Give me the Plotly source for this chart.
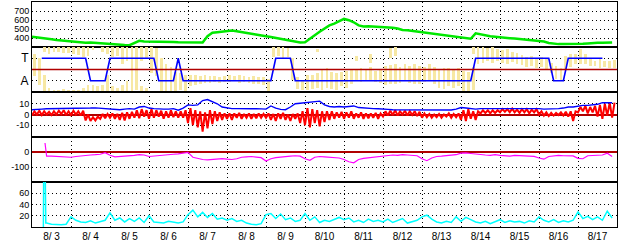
import pandas as pd
import plotly.graph_objects as go
from plotly.subplots import make_subplots

# ---------------- data (3-hourly samples, 8/3 00:00 .. 8/17 21:00) ----------------
t0 = pd.Timestamp("2023-08-03 00:00")
t3 = [t0 + pd.Timedelta(hours=3 * i) for i in range(120)]
tmid = [t + pd.Timedelta(minutes=90) for t in t3]

day_labels = ["8/ 3", "8/ 4", "8/ 5", "8/ 6", "8/ 7", "8/ 8", "8/ 9", "8/10",
              "8/11", "8/12", "8/13", "8/14", "8/15", "8/16", "8/17"]

speed = [
    414, 405, 398, 392, 385, 378, 372, 365,
    360, 356, 352, 348, 350, 345, 342, 338,
    332, 330, 326, 322, 320, 345, 368, 362,
    362, 360, 362, 358, 356, 355, 352, 350,
    348, 347, 350, 350, 420, 458, 465, 472,
    478, 482, 476, 468, 460, 450, 440, 430,
    420, 410, 400, 390, 378, 368, 358, 350,
    352, 395, 430, 470, 510, 540, 560, 585,
    612, 598, 575, 540, 528, 530, 526, 528,
    526, 522, 515, 505, 490, 485, 478, 470,
    463, 458, 452, 446, 441, 432, 425, 418,
    410, 400, 392, 452, 440, 426, 420, 415,
    407, 402, 398, 394, 388, 384, 378, 374,
    370, 360, 345, 335, 332, 334, 333, 330,
    332, 336, 340, 345, 348, 346, 350, 350,
]

# IMF sector, one char per 3 h: T = toward, A = away, . = none
sector_days = ["..TTTTTT", "TTTTAAAA", "TTTTTTTT", "TTAAAATA", "AAAAAAAA",
               "AAAAAAAA", "AATTTTAA", "AAAAAAAA", "AAAAAAAA", "AAAAAAAA",
               "AAAAAAAA", "AAATTTTT", "TTTTTTTT", "TTTAAATT", "TTTTTT.."]

# yellow scatter extent per 3 h bin (main cluster and wrapped cluster)
ylo = [
    -0.6, -1.4, -2.0, -2.0, -2.0, -2.0, -2.0, -2.0,
    -2.0, -2.0, -2.0, -2.0, -2.0, -2.0, -2.0, -2.0,
    -2.0, -2.0, -2.0, -2.0, -2.0, -1.8, -2.0, -2.0,
    -0.3, -0.6, -2.0, -2.0, -2.0, -2.0, -1.8, -2.0,
    -1.5, -1.4, -1.3, -1.2, -1.2, -1.1, -1.2, -1.1,
    -1.1, -1.0, -1.2, -1.1, -1.2, -1.3, -1.3, -1.4,
    -2.0, 1.1, 1.2, 1.0, 1.1, -0.9, -1.7, -1.8,
    -1.8, -1.7, -1.6, -1.8, -1.6, -1.7, -1.8, -1.5,
    -1.6, -1.3, -1.0, -1.1, -0.9, -1.0, -1.1, -1.2,
    -1.4, -1.3, -1.3, -1.2, -1.0, -1.2, -1.3, -1.3,
    -1.1, -1.0, -1.3, -1.6, -1.7, -1.5, -1.6, -1.5,
    -1.9, -2.0, -1.8, 0.5, 0.6, 0.8, 0.6, 0.8,
    0.6, 0.5, 0.7, 0.5, 0.4, 0.2, 0.3, 0.1,
    0.2, 0.0, -0.3, -0.8, -1.0, 0.0, 0.2, 0.45,
    0.5, 0.45, 0.3, 0.3, 0.1, 0.2, 0.1, 0.15,
]
yhi = [
    1.36, 1.0, -0.45, -1.6, -1.8, -1.8, -1.7, -1.8,
    -1.8, -1.8, -1.6, -1.4, -1.4, -1.5, -1.4, -0.5,
    -1.5, -1.6, -1.4, -1.0, 2.0, 2.0, -1.5, -1.6,
    2.0, 1.9, 1.0, 0.5, 0.2, -0.2, -0.3, -0.5,
    -0.45, -0.5, -0.6, -0.5, -0.6, -0.6, -0.7, -0.6,
    -0.45, -0.6, -0.5, -0.6, -0.7, -0.6, -0.7, -0.7,
    -0.8, 2.0, 2.0, 2.0, 1.9, 1.0, -0.7, -0.9,
    -0.45, -0.5, -0.3, 0.0, 0.1, -0.2, -0.3, -0.2,
    -0.15, 0.0, 0.0, 0.1, 0.0, 0.2, -0.1, 0.0,
    0.3, 0.4, 0.45, 0.2, 0.45, 0.3, 0.45, 0.3,
    0.2, 0.5, 0.2, 0.0, 0.15, 0.1, 0.0, 0.1,
    -0.1, -0.2, 0.2, 2.0, 2.0, 1.9, 2.0, 1.8,
    1.7, 1.8, 1.6, 1.5, 1.3, 1.1, 1.2, 1.0,
    1.1, 1.0, 0.6, 0.3, 0.1, 1.2, 1.4, 1.4,
    1.8, 1.4, 1.0, 0.8, 0.9, 0.8, 0.8, 0.85,
]
N = None
y2lo = [
    N, N, 1.6, 1.4, 1.6, 1.6, 1.5, 1.5,
    1.4, 1.3, 1.1, 1.2, 1.7, N, 1.6, 1.4,
    1.1, 1.2, 0.5, 0.8, N, N, 0.8, 1.0,
    N, N, N, N, N, N, N, N,
    N, N, N, N, N, N, N, N,
    N, N, N, N, N, N, N, N,
    N, N, N, N, N, N, N, N,
    N, N, 1.6, N, N, N, N, N,
    N, N, 0.8, N, N, 0.6, N, N,
    N, 1.0, 1.2, N, N, N, N, N,
    N, N, N, N, N, N, N, N,
    N, N, 1.4, N, N, N, N, N,
    N, N, N, N, N, N, N, N,
    N, N, N, N, N, N, N, N,
    N, N, N, N, N, N, N, N,
]
y2hi = [
    N, N, 2.0, 2.0, 2.0, 2.0, 2.0, 2.0,
    2.0, 2.0, 2.0, 2.0, 2.0, N, 2.0, 2.0,
    2.0, 2.0, 2.0, 2.0, N, N, 2.0, 2.0,
    N, N, N, N, N, N, N, N,
    N, N, N, N, N, N, N, N,
    N, N, N, N, N, N, N, N,
    N, N, N, N, N, N, N, N,
    N, N, 1.8, N, N, N, N, N,
    N, N, 1.2, N, N, 1.4, N, N,
    N, 1.9, 2.0, N, N, N, N, N,
    N, N, N, N, N, N, N, N,
    N, N, 2.0, N, N, N, N, N,
    N, N, N, N, N, N, N, N,
    N, N, N, N, N, N, N, N,
    N, N, N, N, N, N, N, N,
]

# IMF Bz: low and high excursion in each 3 h bin
bz_lo = [
    -1, 0, -0.5, 0, -0.5, 0, 0.5, -0.5,
    -0.5, 0, -1, -5.5, -6, -5.5, -4, -3.5,
    -3, -4, -5, -5.5, -4, -3, -3.5, -2,
    -4, -3, -2, -4, -3, -2.5, -3, -3,
    -8, -10, -12, -16, -13, -9, -6, -5,
    -4, -5, -3, -4, -3, -4, -3.5, -3,
    -3, -5, -6, -4, -5, -6, -4, -8,
    -10, -12, -8, -11, -7, -5, -4, -3,
    -4, -3, -4, -3, -4, -3.5, -3, -4,
    -2, -1, -0.5, -1, 0, -1, -0.5, -1.5,
    -3, -2.5, -3, -2.5, -3, -2, -3, -2.5,
    -5, -6, -4, -5, 1, 1.5, 1, 1.5,
    2, 2.5, 2, 2, 1.5, 2, 1, 2,
    0, -1, -1.5, -1, -0.5, -1, -2, -6,
    2, 3, 1, 2, -2, -4, -1, -3,
]
bz_hi = [
    3, 3.5, 3, 2.5, 3, 3.5, 4, 3,
    3.5, 3, 3.5, 0, -2.5, -2, 0.5, 0.5,
    1, 0.5, 1.5, 2, 2.5, 4, 5, 4,
    5, 4, 3.5, 3, 4, 3, 3, 4,
    6, 4, 3, 2, 4, 3, 2, 1,
    1, 1, 1.5, 0.5, 1, 0.5, 1, 0.5,
    1, 0.5, 1, 1.5, 0, 0.5, 1, 3,
    6, 5, 4, 3, 3, 3, 2, 2.5,
    2, 3, 1, 2, 1, 1, 1.5, 1,
    3, 3.5, 4, 3, 3.5, 3, 3, 2.5,
    1, 0.5, 0, 0.5, 0, 1, 0.5, 1,
    4, 5, 3, 3, 4, 4, 4, 4,
    5, 5, 5.5, 4.5, 5, 5, 4.5, 5,
    3, 2, 1.5, 1.5, 2, 2.5, 3, 3,
    7, 8, 7, 8, 9, 10, 11, 11,
]
bt = [
    4.5, 5, 5, 5.3, 5.3, 5.5, 5.8, 5.5,
    5.5, 5.5, 5.3, 5.5, 6, 6.2, 5.8, 5.5,
    5, 4.5, 4.5, 5, 5.5, 5, 7, 7.5,
    6, 5.5, 5, 5, 5, 5.5, 4, 6,
    9, 8.5, 9, 13, 14, 12, 10, 7,
    6, 5.5, 5.5, 5.3, 5.3, 5.3, 5.5, 5.3,
    5, 8, 6, 4.8, 4.5, 7, 10, 10.5,
    11, 12, 12.5, 12.5, 9, 7.5, 7, 7.5,
    7, 7.5, 8, 6.5, 6, 5.5, 5.5, 5.3,
    4.8, 4.8, 4.5, 4.5, 4.5, 4.3, 4.3, 4.5,
    4.3, 4.3, 4.2, 4.2, 4.3, 4.3, 4.2, 5,
    6.5, 6, 5.5, 5, 5.5, 5.3, 5.5, 5.5,
    5.5, 5.5, 6, 5.5, 5.5, 5.5, 5.5, 5.5,
    5.5, 5, 5, 5.3, 5.5, 6, 7, 7,
    8, 8.5, 8.5, 9, 9.5, 11, 11, 11,
]

dst_time = [pd.Timestamp("2023-08-03 08:00")] + t3[3:]
dst = [60,
       -28, -27, -29, -30, -28,
       -35, -30, -25, -22, -20, -18, -15, -5,
       -22, -32, -30, -31, -28, -22, -18, -20,
       -30, -28, -25, -20, -18, -15, -12, -8,
       -2, -35, -45, -50, -52, -50, -45, -44,
       -48, -50, -45, -35, -32, -30, -34, -38,
       -60, -45, -38, -33, -30, -28, -25, -28,
       -45, -55, -35, -30, -33, -36, -38, -40,
       -50, -65, -72, -50, -42, -38, -33, -30,
       -28, -24, -20, -22, -18, -20, -22, -25,
       -45, -58, -40, -30, -28, -25, -22, -18,
       -8, -6, -10, -15, -18, -20, -22, -18,
       -22, -25, -28, -22, -25, -28, -26, -29,
       -40, -48, -30, -25, -22, -25, -28, -26,
       -42, -45, -25, -22, -18, -20, -8, -30]

ae_time = [pd.Timestamp("2023-08-03 07:00"), pd.Timestamp("2023-08-03 07:30"),
           pd.Timestamp("2023-08-03 08:30")] + t3[3:]
ae = [0, 250, 7,
      7, 5, 4, 4, 5,
      18, 12, 9, 8, 11, 7, 9, 12,
      25, 12, 16, 9, 15, 10, 16, 8,
      20, 9, 8, 7, 10, 8, 7, 9,
      22, 30, 18, 26, 17, 24, 14, 16,
      12, 15, 10, 12, 7, 5, 4, 6,
      22, 24, 15, 23, 13, 16, 10, 12,
      24, 12, 18, 8, 12, 10, 14, 17,
      13, 16, 9, 12, 8, 14, 10, 12,
      9, 14, 8, 11, 15, 7, 10, 12,
      18, 21, 14, 9, 7, 10, 8, 18,
      10, 17, 13, 9, 7, 10, 6, 9,
      13, 8, 11, 9, 10, 7, 11, 9,
      18, 12, 9, 13, 8, 11, 9, 12,
      27, 15, 19, 13, 18, 12, 28, 16]

# ---------------- styling ----------------
GREEN = "#00e800"
BLUE = "#0000ff"
RED = "#ff0000"
DARKRED = "#b00000"
MAGENTA = "#ff00ff"
CYAN = "#00ffff"
YELLOW = "#f7e8a4"
FONT = "Liberation Sans"
GRID_DASH = "1px,3px"

sector_code = {"T": 1, "A": -1, ".": None}
sector = [sector_code[c] for c in "".join(sector_days)]

# Bz drawn as a jagged trace through each bin's low and high excursion
bz_t, bz_v = [], []
for t, tm, lo, hi in zip(t3, tmid, bz_lo, bz_hi):
    bz_t += [t, tm]
    bz_v += [lo, hi]

fig = make_subplots(rows=5, cols=1, shared_xaxes=True, vertical_spacing=0)

fig.add_trace(go.Scatter(x=t3, y=speed, mode="lines",
                         line=dict(color=GREEN, width=2.5)), row=1, col=1)

BW = 3 * 3600 * 1000 * 0.55
fig.add_trace(go.Bar(x=tmid, base=ylo, y=[h - l for l, h in zip(ylo, yhi)],
                     width=BW, marker=dict(color=YELLOW, line=dict(width=0))),
              row=2, col=1)
fig.add_trace(go.Bar(x=tmid, base=y2lo,
                     y=[None if l is None else h - l for l, h in zip(y2lo, y2hi)],
                     width=BW, marker=dict(color=YELLOW, line=dict(width=0))),
              row=2, col=1)
fig.add_trace(go.Scatter(x=t3, y=sector, mode="lines",
                         line=dict(color=BLUE, width=1.6)), row=2, col=1)

fig.add_trace(go.Scatter(x=bz_t, y=bz_v, mode="lines",
                         line=dict(color=RED, width=2)), row=3, col=1)
fig.add_trace(go.Scatter(x=t3, y=bt, mode="lines",
                         line=dict(color=BLUE, width=1.4)), row=3, col=1)

fig.add_trace(go.Scatter(x=dst_time, y=dst, mode="lines",
                         line=dict(color=MAGENTA, width=1.2)), row=4, col=1)

fig.add_trace(go.Scatter(x=ae_time, y=ae, mode="lines",
                         line=dict(color=CYAN, width=1.5)), row=5, col=1)

midnights = [t0 + pd.Timedelta(days=k) for k in range(1, 15)]
noons = [t0 + pd.Timedelta(days=k, hours=12) for k in range(15)]

fig.update_xaxes(range=[t0, t0 + pd.Timedelta(days=15)],
                 tickmode="array", tickvals=noons, ticktext=day_labels,
                 showgrid=False, ticks="", zeroline=False,
                 showline=True, mirror=True, linecolor="black", linewidth=1,
                 tickfont=dict(family=FONT, size=10, color="black"),
                 minor=dict(tickmode="array", tickvals=midnights, showgrid=True,
                            gridcolor="black", gridwidth=1, griddash=GRID_DASH, ticks=""))

YFONT = dict(family=FONT, size=9, color="black")
common_y = dict(showline=True, mirror=True, linecolor="black", linewidth=1,
                ticks="", showgrid=True, gridcolor="black", gridwidth=1,
                griddash=GRID_DASH, tickmode="array")

fig.update_yaxes(row=1, col=1, range=[300, 800], tickvals=[400, 500, 600, 700],
                 ticktext=["400", "500", "600", "700"], zeroline=False,
                 tickfont=YFONT, **common_y)
fig.update_yaxes(row=2, col=1, range=[-2, 2], tickvals=[1, -1], ticktext=["T", "A"],
                 zeroline=False, tickfont=dict(family=FONT, size=12, color="black"),
                 **common_y)
fig.update_yaxes(row=3, col=1, range=[-21, 21], tickvals=[10, 0, -10],
                 ticktext=["10", "0", "-10"], zeroline=True, zerolinecolor=DARKRED,
                 zerolinewidth=1.5, tickfont=YFONT, **common_y)
fig.update_yaxes(row=4, col=1, range=[-200, 100], tickvals=[0, -100],
                 ticktext=["0", "-100"], zeroline=True, zerolinecolor=DARKRED,
                 zerolinewidth=1.5, tickfont=YFONT, **common_y)
fig.update_yaxes(row=5, col=1, range=[0, 80], tickvals=[20, 40, 60],
                 ticktext=["20", "40", "60"], zeroline=False, tickfont=YFONT, **common_y)

# dark-red reference level between sectors, kept above the yellow scatter
fig.add_shape(type="line", xref="x2 domain", yref="y2", x0=0, x1=1, y0=0, y1=0,
              line=dict(color=DARKRED, width=1.5), layer="above")

fig.update_layout(width=628, height=244, margin=dict(l=32, r=11, t=2, b=17),
                  showlegend=False, barmode="overlay", bargap=0,
                  plot_bgcolor="white", paper_bgcolor="white",
                  font=dict(family=FONT, size=10, color="black"))

fig.write_html("out.html")
